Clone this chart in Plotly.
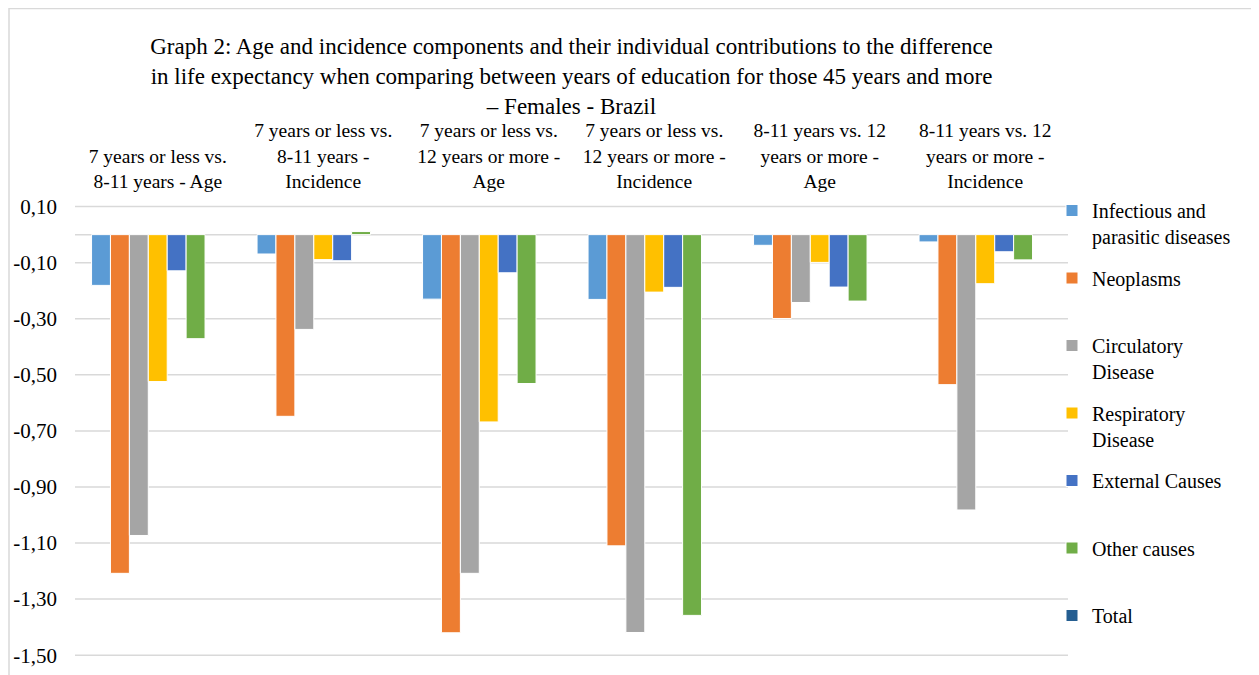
import plotly.graph_objects as go

categories = [
    "7 years or less vs.<br>8-11 years - Age",
    "7 years or less vs.<br>8-11 years -<br>Incidence",
    "7 years or less vs.<br>12 years or more -<br>Age",
    "7 years or less vs.<br>12 years or more -<br>Incidence",
    "8-11 years vs. 12<br>years or more -<br>Age",
    "8-11 years vs. 12<br>years or more -<br>Incidence",
]

infectious = [-0.181, -0.069, -0.230, -0.231, -0.038, -0.026]
neoplasms = [-1.208, -0.648, -1.420, -1.110, -0.299, -0.535]
circulatory = [-1.073, -0.338, -1.208, -1.419, -0.242, -0.982]
respiratory = [-0.524, -0.089, -0.668, -0.205, -0.099, -0.175]
external = [-0.129, -0.093, -0.136, -0.188, -0.187, -0.061]
other = [-0.371, 0.011, -0.531, -1.358, -0.237, -0.090]
total = [None, None, None, None, None, None]

series_names = ["Infectious and<br>parasitic diseases", "Neoplasms<br> ", "Circulatory<br>Disease",
                "Respiratory<br>Disease", "External Causes<br> ", "Other causes<br> ", "Total<br> "]
series_values = [infectious, neoplasms, circulatory, respiratory, external, other, total]
colors = ["#5B9BD5", "#ED7D31", "#A5A5A5", "#FFC000", "#4472C4", "#70AD47", "#255E91"]

tick_vals = [0.10, -0.10, -0.30, -0.50, -0.70, -0.90, -1.10, -1.30, -1.50]
tick_text = ["0,10", "-0,10", "-0,30", "-0,50", "-0,70", "-0,90", "-1,10", "-1,30", "-1,50"]

FONT = "Liberation Serif, Times New Roman, serif"
GRID = "#D9D9D9"

fig = go.Figure()
for i, (name, vals, col) in enumerate(zip(series_names, series_values, colors)):
    fig.add_trace(go.Bar(
        x=categories, y=vals, name=name, legendgroup=f"g{i}",
        marker=dict(color=col, line=dict(color="white", width=1)),
    ))

# page body adds an 8px offset; positions below are in figure pixels
OFF = 8
L, R, T, B = 67, 199, 193, 25
W, H = 1259, 675
pw, ph = W - L - R, H - T - B

def xp(px):  # px in reference-screen coordinates
    return (px - OFF - L) / pw

def yp(py):
    return (H - B - (py - OFF)) / ph

shapes = [dict(type="line", xref="paper", yref="y", x0=0, x1=1, y0=v, y1=v,
               line=dict(color=GRID, width=1.5),
               layer="above" if v > 0.05 else "below") for v in tick_vals + [0]]
shapes.append(dict(type="rect", xref="paper", yref="paper",
                   x0=xp(9), x1=xp(1400), y0=yp(800), y1=yp(8.5),
                   line=dict(color=GRID, width=1.5), fillcolor="rgba(0,0,0,0)", layer="below"))

fig.update_layout(
    width=W, height=H,
    margin=dict(l=L, r=R, t=T, b=B, autoexpand=False),
    paper_bgcolor="white", plot_bgcolor="white",
    font=dict(family=FONT, size=21, color="#000000"),
    barmode="group", bargap=0.2, bargroupgap=0,
    title=dict(
        text="Graph 2: Age and incidence components and their individual contributions to the difference<br>"
             "in life expectancy when comparing between years of education for those 45 years and more<br>"
             "– Females - Brazil",
        x=0.5, xanchor="center", xref="paper", y=1 - 46 / H, yanchor="top",
        font=dict(family=FONT, size=23, color="#000000"),
    ),
    xaxis=dict(side="top", showgrid=False, showline=False, ticks="", tickfont=dict(size=19.5),
               ticklabelstandoff=8, automargin=False),
    yaxis=dict(range=[-1.51, 0.12], tickvals=tick_vals, ticktext=tick_text,
               showgrid=False, zeroline=False,
               showline=False, ticks="", tickfont=dict(size=21), ticklabelstandoff=17,
               automargin=False),
    legend=dict(x=xp(1052), xanchor="left", y=yp(191), yanchor="top",
                traceorder="grouped", tracegroupgap=12.5, valign="top",
                font=dict(family=FONT, size=20), itemwidth=30, bgcolor="rgba(0,0,0,0)",
                maxheight=700),
    shapes=shapes,
)

fig.write_html("out.html")
